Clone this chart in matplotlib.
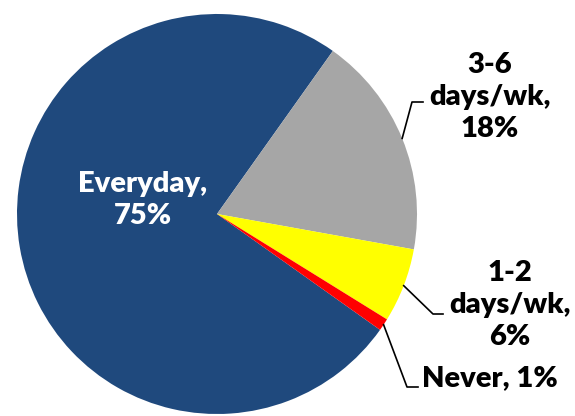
import numpy as np
import matplotlib.pyplot as plt

labels = ['Everyday', '3-6\ndays/wk', '1-2\ndays/wk', 'Never']
shares = [75, 18, 6, 1]
colors = ['#1F497D', '#A6A6A6', '#FFFF00', '#FF0000']

W, H = 575, 416
cx, cy, R = 217, 214, 200  # pie centre / radius in pixels


def px(x, y):
    # pixel (from top-left) -> data coords
    return (x - cx) / R, (cy - y) / R


fig = plt.figure(figsize=(W / 100, H / 100), dpi=100)
ax = fig.add_axes([0, 0, 1, 1])
wedges, _ = ax.pie(shares, colors=colors, startangle=-35.4, counterclock=False,
                   radius=1, center=(0, 0), wedgeprops=dict(linewidth=0))
ax.set_xlim(-cx / R, (W - cx) / R)
ax.set_ylim(-(H - cy) / R, cy / R)
ax.set_aspect('equal')
ax.axis('off')

font = dict(family=['Lato', 'DejaVu Sans'], fontweight='heavy', fontsize=21)

# inside label
ax.text(*px(143, 200), f'Everyday,\n{shares[0]}%', color='white', ha='center',
        va='center', linespacing=1.3, **font)

# outside labels with elbow leader lines
layout = {
    1: dict(elbow=(412, 102), end=(423, 102), text=(490, 97), ha='center'),
    2: dict(elbow=(433, 314), end=(443, 314), text=(510, 305), ha='center'),
    3: dict(elbow=(407, 387), end=(418, 387), text=(422, 378), ha='left'),
}
for i, cfg in layout.items():
    w = wedges[i]
    mid = np.deg2rad((w.theta1 + w.theta2) / 2)
    start = (np.cos(mid), np.sin(mid))
    e = px(*cfg['elbow'])
    f = px(*cfg['end'])
    ax.plot([start[0], e[0], f[0]], [start[1], e[1], f[1]], color='black', lw=1.2)
    name = labels[i]
    if i == 3:
        txt = f'{name}, {shares[i]}%'
    else:
        txt = f'{name},\n{shares[i]}%'
    ax.text(*px(*cfg['text']), txt, ha=cfg['ha'], va='center',
            linespacing=1.3, color='black', **font)

fig.savefig('out.png', dpi=100)
